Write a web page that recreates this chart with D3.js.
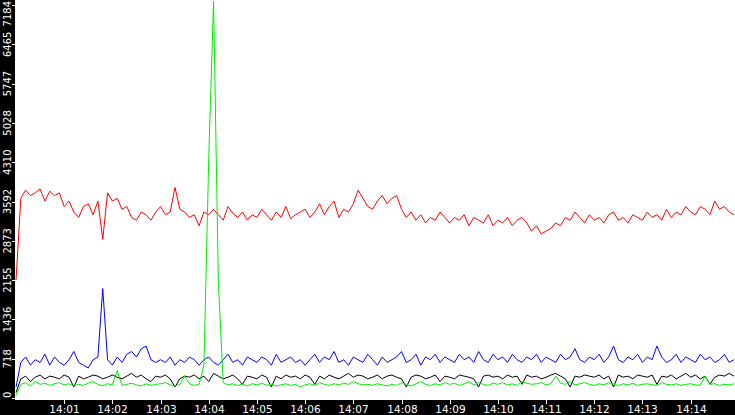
<!DOCTYPE html>
<html><head><meta charset="utf-8">
<script src="https://cdn.jsdelivr.net/npm/d3@7"></script>
<style>body{margin:0;background:#fff}svg{display:block}</style>
</head><body>
<script>
const yTicks=[0,718,1436,2155,2873,3592,4310,5028,5747,6465,7184];
const xTickLabels=["14:01","14:02","14:03","14:04","14:05","14:06","14:07","14:08","14:09","14:10","14:11","14:12","14:13","14:14"];
const stepSeconds=6;
const red=[2155,3650,3800,3700,3750,3820,3600,3780,3700,3750,
3500,3600,3400,3300,3500,3550,3350,3600,2900,3750,
3600,3650,3450,3500,3300,3250,3400,3350,3250,3400,
3500,3350,3400,3850,3450,3400,3300,3350,3150,3400,
3350,3450,3350,3250,3500,3380,3300,3400,3250,3350,
3300,3450,3350,3250,3400,3300,3500,3280,3350,3400,
3450,3300,3400,3550,3350,3500,3600,3300,3450,3400,
3550,3800,3650,3500,3450,3600,3700,3550,3650,3700,
3450,3300,3400,3250,3350,3200,3300,3250,3400,3300,
3200,3300,3250,3350,3150,3300,3250,3200,3350,3150,
3250,3200,3300,3150,3250,3300,3200,3050,3150,3000,
3050,3100,3200,3150,3300,3250,3400,3300,3200,3350,
3250,3300,3200,3350,3400,3250,3300,3200,3350,3300,
3250,3400,3300,3350,3250,3450,3300,3400,3350,3500,
3400,3350,3500,3450,3350,3600,3450,3500,3400,3350];
const blue=[200,650,750,600,700,650,800,600,750,650,
600,700,850,650,600,550,700,750,2000,700,
600,750,650,800,850,750,900,950,700,650,
700,650,750,600,700,650,750,700,600,700,
750,650,600,700,800,650,700,600,750,700,
650,750,700,600,800,650,700,750,650,700,
600,700,800,650,750,700,850,650,700,600,
750,700,650,800,700,600,750,650,700,750,
850,650,700,800,600,750,700,800,650,750,
700,650,800,700,750,650,850,700,650,800,
700,750,650,800,700,650,750,700,800,650,
750,700,650,800,700,750,900,700,650,750,
700,800,650,750,950,700,650,750,700,800,
650,750,700,950,750,650,700,800,650,750,
700,650,800,700,750,650,700,800,650,700];
const black=[100,350,400,300,380,420,350,400,380,350,
420,380,200,400,350,380,420,400,350,380,
420,380,350,400,450,380,420,350,300,400,
380,420,350,200,350,400,380,420,350,400,
300,450,400,350,380,420,350,250,400,380,
350,420,380,200,400,350,420,380,400,350,
420,380,250,400,350,420,380,350,400,450,
380,420,400,350,380,420,350,400,420,380,
350,200,380,420,400,350,380,420,300,400,
380,350,420,400,380,350,200,400,420,380,
400,350,420,380,400,250,420,380,400,350,
380,420,450,400,350,200,400,380,420,400,
380,420,350,400,200,420,380,400,350,420,
400,380,420,250,400,380,420,350,400,450,
380,420,350,400,250,380,420,400,450,400];
const green=[50,250,280,220,300,250,270,230,260,280,
240,260,220,250,230,270,300,250,220,260,
240,500,230,250,270,240,220,260,230,250,
260,280,240,220,250,400,260,230,250,600,
4400,7250,2100,280,240,260,230,250,220,260,
240,270,230,250,220,240,260,230,250,200,
240,260,230,280,250,230,260,240,270,250,
300,260,240,250,230,260,240,220,250,230,
280,250,220,260,300,250,230,260,240,280,
250,270,230,260,300,240,280,250,230,270,
250,280,240,260,230,300,270,250,260,280,
240,260,400,270,250,300,240,260,280,250,
230,260,240,280,250,230,260,240,270,230,
250,260,240,230,280,250,240,260,230,250,
260,240,230,400,250,260,230,250,240,260];
const W=735,H=415,L=16,B=398;
const svg=d3.select("body").append("svg").attr("width",W).attr("height",H);
const x=d3.scaleLinear().domain([0,894]).range([L,L+718]);
const y=d3.scaleLinear().domain([0,7184]).range([B,5]);
svg.append("rect").attr("x",0).attr("y",0).attr("width",15).attr("height",H).attr("fill","#000");
svg.append("rect").attr("x",0).attr("y",400).attr("width",W).attr("height",15).attr("fill","#000");
const line=d3.line().x((d,i)=>x(i*stepSeconds)).y(d=>y(d));
[[red,"#ff0000"],[blue,"#0000ff"],[black,"#000000"],[green,"#00ee00"]].forEach(([s,c])=>{
 svg.append("path").attr("d",line(s)).attr("fill","none").attr("stroke",c).attr("stroke-width",1);
});
const yg=svg.append("g");
yTicks.forEach((v,i)=>{
 yg.append("line").attr("x1",12).attr("x2",16).attr("y1",Math.round(y(v))+0.5).attr("y2",Math.round(y(v))+0.5).attr("stroke","#fff");
 const top=i===yTicks.length-1;
 const ty=top?1:y(v);
 yg.append("text").attr("transform",`translate(11,${ty}) rotate(-90)`).attr("text-anchor",v===0?"start":(top?"end":"middle"))
  .attr("fill","#fff").attr("font-family","DejaVu Sans").attr("font-size",10).text(v);
});
const xg=svg.append("g");
xTickLabels.forEach((t,i)=>{
 const px=Math.round(x((i+1)*60))+0.5;
 xg.append("line").attr("x1",px).attr("x2",px).attr("y1",400).attr("y2",404).attr("stroke","#fff");
 xg.append("text").attr("x",px).attr("y",413).attr("text-anchor","middle").attr("fill","#fff")
  .attr("font-family","DejaVu Sans").attr("font-size",10.5).text(t);
});
</script>
</body></html>
